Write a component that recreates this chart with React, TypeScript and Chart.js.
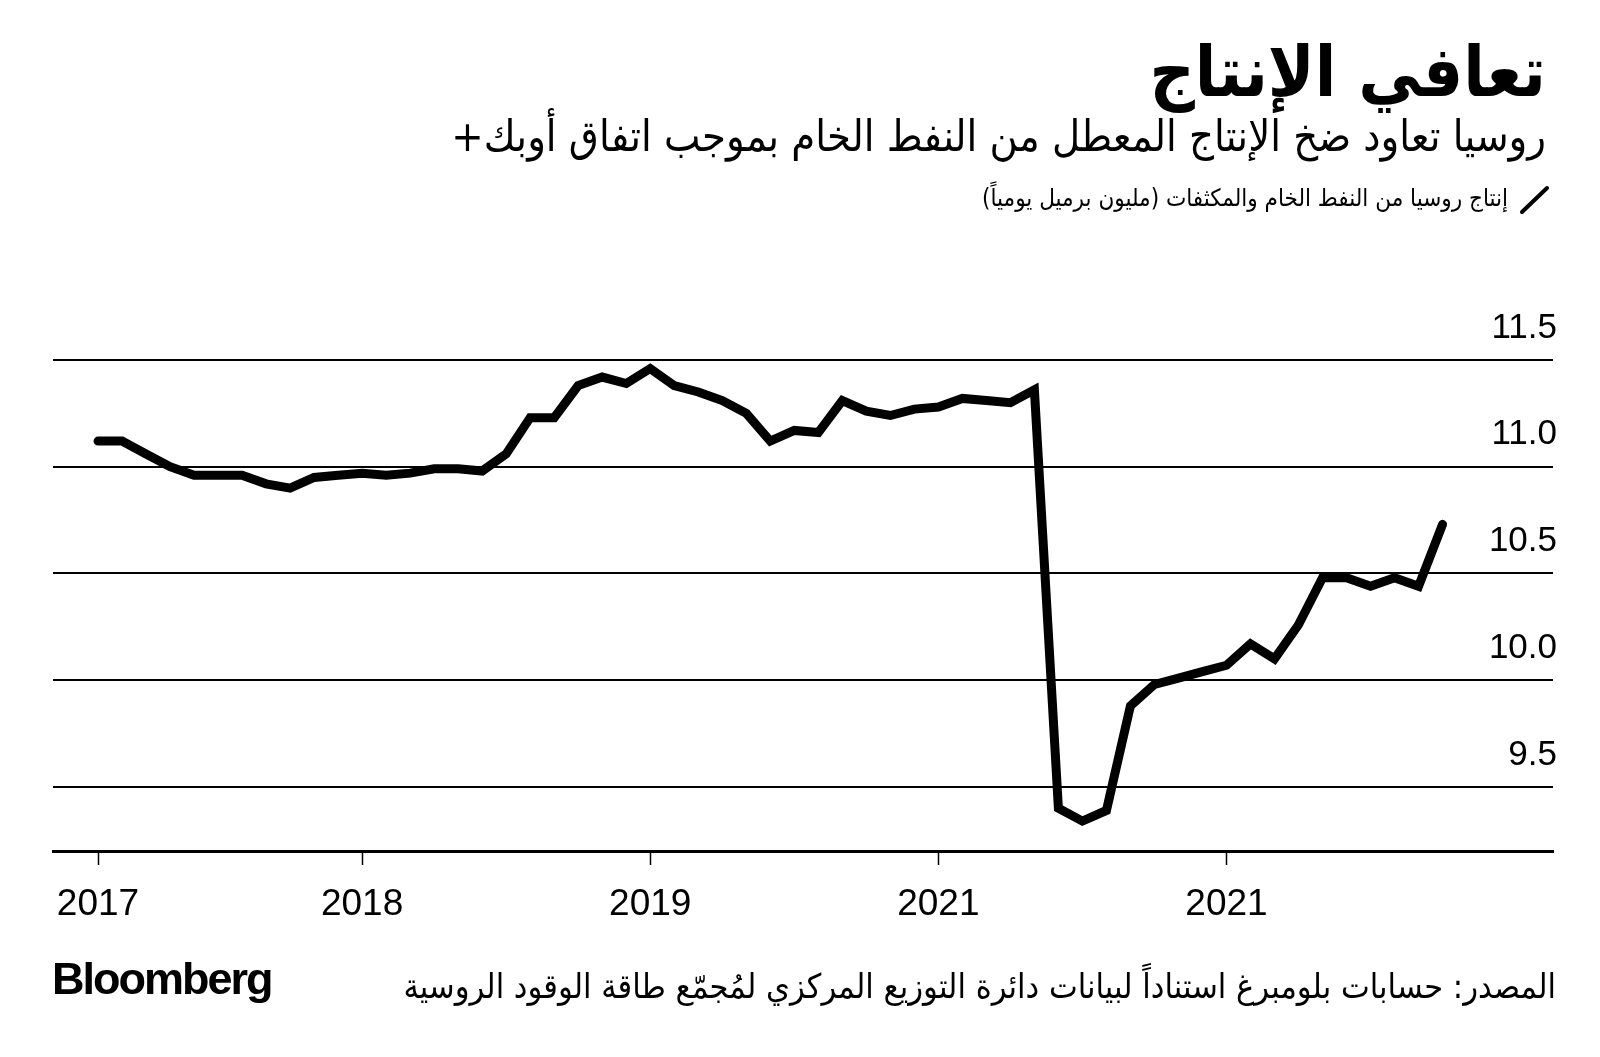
import React, { useEffect, useRef } from "react";
import { Chart, registerables } from "chart.js";
Chart.register(...registerables);

const months = [
  "2017-02", "2017-03", "2017-04", "2017-05", "2017-06", "2017-07", "2017-08", "2017-09", "2017-10", "2017-11", "2017-12",
  "2018-01", "2018-02", "2018-03", "2018-04", "2018-05", "2018-06", "2018-07", "2018-08", "2018-09", "2018-10", "2018-11", "2018-12",
  "2019-01", "2019-02", "2019-03", "2019-04", "2019-05", "2019-06", "2019-07", "2019-08", "2019-09", "2019-10", "2019-11", "2019-12",
  "2020-01", "2020-02", "2020-03", "2020-04", "2020-05", "2020-06", "2020-07", "2020-08", "2020-09", "2020-10", "2020-11", "2020-12",
  "2021-01", "2021-02", "2021-03", "2021-04", "2021-05", "2021-06", "2021-07", "2021-08", "2021-09", "2021-10",
];

const production = [
  11.12, 11.12, 11.06, 11.0, 10.96, 10.96, 10.96, 10.92, 10.9, 10.95, 10.96,
  10.97, 10.96, 10.97, 10.99, 10.99, 10.98, 11.06, 11.23, 11.23, 11.38, 11.42, 11.39,
  11.46, 11.38, 11.35, 11.31, 11.25, 11.12, 11.17, 11.16, 11.31, 11.26, 11.24, 11.27,
  11.28, 11.32, 11.31, 11.3, 11.36, 9.4, 9.34, 9.39, 9.88, 9.98, 10.01, 10.04,
  10.07, 10.17, 10.1, 10.26, 10.48, 10.48, 10.44, 10.48, 10.44, 10.73,
];

const tickMonths = ["2017-02", "2018-01", "2019-01", "2020-01", "2021-01"];
const tickLabels = ["2017", "2018", "2019", "2021", "2021"];
const yTicks = [9.5, 10, 10.5, 11, 11.5];

const title = "تعافي الإنتاج";
const subtitle = "روسيا تعاود ضخ الإنتاج المعطل من النفط الخام بموجب اتفاق أوبك+";
const legendLabel = "إنتاج روسيا من النفط الخام والمكثفات (مليون برميل يومياً)";
const sourceText = "المصدر: حسابات بلومبرغ استناداً لبيانات دائرة التوزيع المركزي لمُجمّع طاقة الوقود الروسية";

function monthIndex(m: string): number {
  const [y, mo] = m.split("-").map(Number);
  return (y - 2017) * 12 + (mo - 1);
}

const arabicFont = "'DejaVu Sans Condensed', 'DejaVu Sans', sans-serif";

export default function App() {
  const ref = useRef<HTMLCanvasElement>(null);

  useEffect(() => {
    document.body.style.margin = "0";
    Chart.defaults.font.family = "'Liberation Sans', Arial, sans-serif";
    const chart = new Chart(ref.current!, {
      type: "line",
      data: {
        datasets: [
          {
            data: months.map((m, i) => ({ x: monthIndex(m), y: production[i] })),
            borderColor: "#000",
            borderWidth: 9,
            pointRadius: 0,
            borderCapStyle: "round",
            borderJoinStyle: "miter",
            tension: 0,
            clip: false as any,
          },
        ],
      },
      options: {
        animation: false,
        responsive: false,
        maintainAspectRatio: false,
        devicePixelRatio: 1,
        layout: { padding: { top: 360, left: 53, right: 47, bottom: 106 } },
        plugins: { legend: { display: false }, tooltip: { enabled: false } },
        scales: {
          x: {
            type: "linear",
            min: -0.875,
            max: 61.6,
            afterBuildTicks: (s: any) => {
              s.ticks = tickMonths.map((m) => ({ value: monthIndex(m) }));
            },
            afterFit: (s: any) => {
              s.height = 100;
            },
            grid: {
              drawOnChartArea: false,
              drawTicks: true,
              tickLength: 14,
              tickWidth: 1.5,
              tickColor: "#000",
            },
            border: { display: true, color: "#000", width: 3 },
            ticks: {
              color: "#000",
              font: { size: 37 },
              padding: 18,
              maxRotation: 0,
              autoSkip: false,
              callback: (_v: any, i: number) => tickLabels[i],
            },
          },
          y: {
            position: "right",
            min: 9.2,
            max: 11.5,
            afterBuildTicks: (s: any) => {
              s.ticks = yTicks.map((v) => ({ value: v }));
            },
            afterFit: (s: any) => {
              s.width = 0;
            },
            grid: { color: "#000", lineWidth: 2, drawTicks: false },
            border: { display: false },
            ticks: {
              mirror: true,
              padding: 4,
              labelOffset: -32,
              color: "#000",
              font: { size: 35 },
              callback: (v: any) => Number(v).toFixed(1),
            },
          },
        },
      },
    } as any);
    return () => chart.destroy();
  }, []);

  return (
    <div style={{ position: "absolute", left: 0, top: 0, width: 1600, height: 1057, background: "#fff", overflow: "hidden" }}>
      <canvas ref={ref} width={1600} height={1057} style={{ position: "absolute", left: 0, top: 0, width: 1600, height: 1057 }} />
      <div dir="rtl" style={{ position: "absolute", right: 54, top: 24, fontFamily: arabicFont, fontWeight: 700, fontSize: 70, lineHeight: "96px", color: "#000", whiteSpace: "nowrap" }}>
        {title}
      </div>
      <div dir="rtl" style={{ position: "absolute", right: 54, top: 108, fontFamily: arabicFont, fontSize: 43, lineHeight: "56px", color: "#000", whiteSpace: "nowrap" }}>
        {subtitle}
      </div>
      <svg style={{ position: "absolute", left: 1518, top: 184 }} width={34} height={32}>
        <line x1={4} y1={28} x2={29} y2={4} stroke="#000" strokeWidth={4} strokeLinecap="round" />
      </svg>
      <div dir="rtl" style={{ position: "absolute", right: 92, top: 181, fontFamily: arabicFont, fontSize: 24, lineHeight: "34px", color: "#000", whiteSpace: "nowrap" }}>
        {legendLabel}
      </div>
      <div style={{ position: "absolute", left: 52, top: 953, fontFamily: "'Liberation Sans', Arial, sans-serif", fontWeight: 700, fontSize: 45, letterSpacing: -2, lineHeight: "52px", color: "#000" }}>
        Bloomberg
      </div>
      <div dir="rtl" style={{ position: "absolute", right: 44, top: 963, fontFamily: arabicFont, fontSize: 34, lineHeight: "46px", color: "#000", whiteSpace: "nowrap" }}>
        {sourceText}
      </div>
    </div>
  );
}
